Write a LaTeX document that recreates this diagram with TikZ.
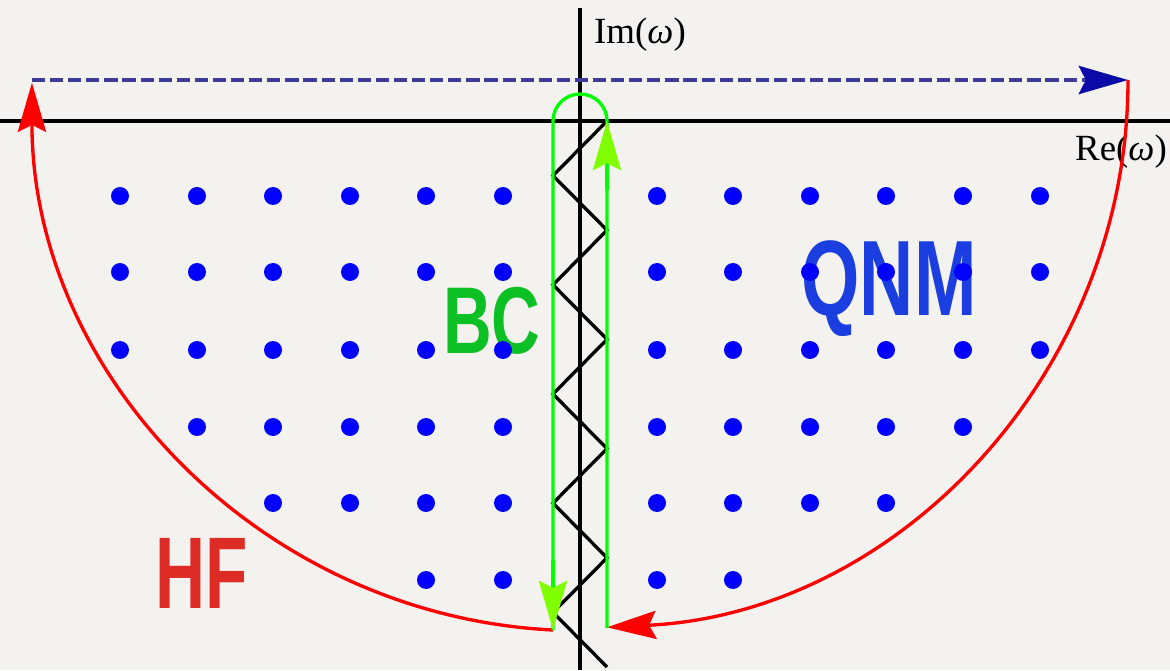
\documentclass[tikz,border=0pt]{standalone}
\usepackage{fontspec}
\usepackage{graphicx}
\setmainfont{Liberation Serif}
\newfontfamily\bigsans{Liberation Sans}
\usetikzlibrary{arrows.meta}

\definecolor{paper}{HTML}{F4F2EE}
\definecolor{hfred}{HTML}{DD2B25}
\definecolor{bcgreen}{HTML}{0CBF24}
\definecolor{qnmblue}{HTML}{1A3EE0}
\definecolor{dotblue}{HTML}{0000FF}
\definecolor{navy}{HTML}{3C3C96}
\definecolor{tipblue}{HTML}{0A0AA8}
\definecolor{chart}{HTML}{80FF00}

\begin{document}
\begin{tikzpicture}[
  x=0.02cm, y=0.02cm,
  axis/.style={line width=2pt, black},
  contour/.style={line width=1.9pt, red},
  cutline/.style={line width=1.9pt, green},
  zigzag/.style={line width=1.9pt, black, line join=miter},
  bigtip/.style={-{Stealth[length=28pt, width=16pt, inset=4pt, #1]}},
  bigtip/.default={},
  axislabel/.style={inner sep=0pt, font=\fontsize{21}{24}\selectfont},
  tag/.style={inner sep=0pt, font=\bigsans\bfseries\fontsize{#1}{#1}\selectfont},
  dot/.style={fill=dotblue}
]

% Background
\fill[paper] (0,0) rectangle (1170,670);
\useasboundingbox (0,0) rectangle (1170,670);

% Anchor points
\coordinate (west) at (32,590);
\coordinate (east) at (1128,590);
\coordinate (lbot) at (553,40);
\coordinate (rbot) at (607,42);
\coordinate (rtop) at (607,549);
\coordinate (ltop) at (553,549);

% Axes
\draw[axis] (0,549) -- (1170,549);
\draw[axis] (580,0) -- (580,662);
\node[axislabel] (imlab) at (640,635) {Im(\textit{ω})};
\node[axislabel] (relab) at (1121,518) {Re(\textit{ω})};

% Branch cut
\draw[zigzag] (607,549)
  \foreach \k in {1,...,10} {
    -- ({\k/2==int(\k/2) ? 607 : 553}, {549-54.6*\k})
  };

% Closing line at the top
\draw[line width=2.3pt, navy, dash pattern=on 7.5pt off 2.8pt,
  -{Stealth[length=28pt, width=16pt, inset=4pt, color=tipblue, fill=tipblue]}]
  (west) -- (east);

% Large arcs
\draw[contour, bigtip] (east) arc[start angle=0, end angle=-87.18, radius=548];
\draw[contour, bigtip] (lbot) arc[start angle=267.18, end angle=180, radius=548];

% Keyhole round the cut
\draw[cutline] (rbot) -- (rtop) arc[start angle=0, end angle=180, radius=27] -- (lbot);
\draw[cutline, bigtip={color=chart, fill=chart}] (607,480) -- (rtop);
\draw[cutline, bigtip={color=chart, fill=chart}] (553,110) -- (lbot);

% Labels
\node[tag=58, text=hfred] (hf) at (202,97) {\scalebox{0.68}[1]{HF}};
\node[tag=54, text=bcgreen] (bc) at (492,349) {\scalebox{0.71}[1]{BC}};
\node[tag=61, text=qnmblue] (qnm) at (889,381) {\scalebox{0.70}[1]{QNM}};

% Poles
\foreach \y in {474,398,320} {
  \foreach \x in {120,197,273,350,426,503,657,733,810,886,963,1040}
    \fill[dot] (\x,\y) circle[radius=9];
}
\foreach \x in {197,273,350,426,503,657,733,810,886,963}
  \fill[dot] (\x,243) circle[radius=9];
\foreach \x in {273,350,426,503,657,733,810,886}
  \fill[dot] (\x,167) circle[radius=9];
\foreach \x in {426,503,657,733}
  \fill[dot] (\x,90) circle[radius=9];

\end{tikzpicture}
\end{document}
